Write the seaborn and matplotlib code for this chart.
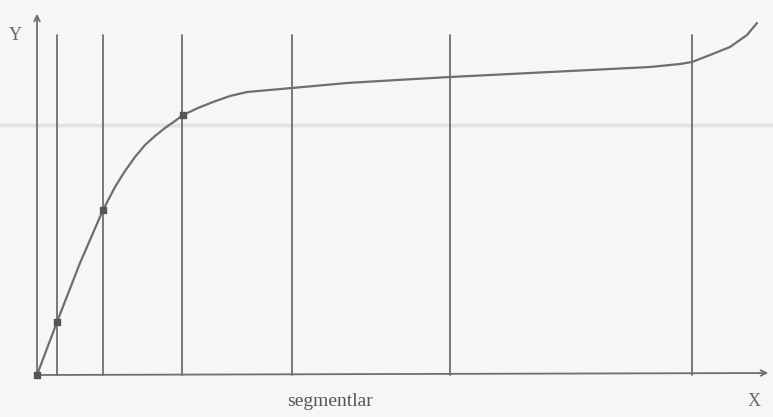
import numpy as np
import pandas as pd
import matplotlib.pyplot as plt
import seaborn as sns

sns.set_style("white")
plt.rcParams['font.family'] = ['Liberation Serif', 'DejaVu Serif']

# curve (x to the right, y up, origin at axis corner)
curve_x = [0, 20, 43, 66, 78, 88, 98, 108, 118, 128, 138, 146, 161, 176, 193, 210, 255,
           310, 360, 413, 513, 613, 643, 655, 673, 693, 710, 720]
curve_y = [0, 53, 112, 165, 188, 204, 218, 230, 239, 247, 254, 260, 267, 273, 279, 283, 287,
           292, 295, 298, 303, 308, 311, 313, 320, 328, 340, 352]

# segment boundaries and the marked points on the curve
seg_x = [20, 66, 145, 255, 413, 655]
mark_x = [0, 20, 66, 146]
mark_y = [0, 53, 165, 260]

x_label = "X"
y_label = "Y"
caption = "segmentlar"

gray = '#6e6e6e'
df = pd.DataFrame({'x': curve_x, 'y': curve_y})

fig = plt.figure(figsize=(7.73, 4.17), dpi=100)
fig.patch.set_facecolor('#f6f6f6')
ax = fig.add_axes([0, 0, 1, 1])
ax.set_facecolor('#f6f6f6')
ax.set_xlim(-37, 736)
ax.set_ylim(-42, 375)
ax.axis('off')

# faint scan band
ax.axhline(250, color='#e2e2e2', lw=2.5, zorder=0)

# segment lines
for sx in seg_x:
    ax.plot([sx, sx], [0, 340], color=gray, lw=1.3)

# axes with arrows
ax.annotate('', xy=(734, 2), xytext=(0, 0),
            arrowprops=dict(arrowstyle='->', color=gray, lw=1.3))
ax.annotate('', xy=(0, 364), xytext=(0, 0),
            arrowprops=dict(arrowstyle='->', color=gray, lw=1.3))

sns.lineplot(data=df, x='x', y='y', sort=False, color=gray, lw=1.6, ax=ax)
ax.scatter(mark_x, mark_y, marker='s', s=22, color='#555555', zorder=3)

ax.text(-22, 340, y_label, fontsize=13, color='#666666', ha='center', va='center')
ax.text(717, -27, x_label, fontsize=13, color='#666666', ha='center', va='center')
ax.text(293, -27, caption, fontsize=14, color='#555555', ha='center', va='center')

ax.set_xlabel('')
ax.set_ylabel('')
fig.savefig('out.png', dpi=100, facecolor=fig.get_facecolor())
